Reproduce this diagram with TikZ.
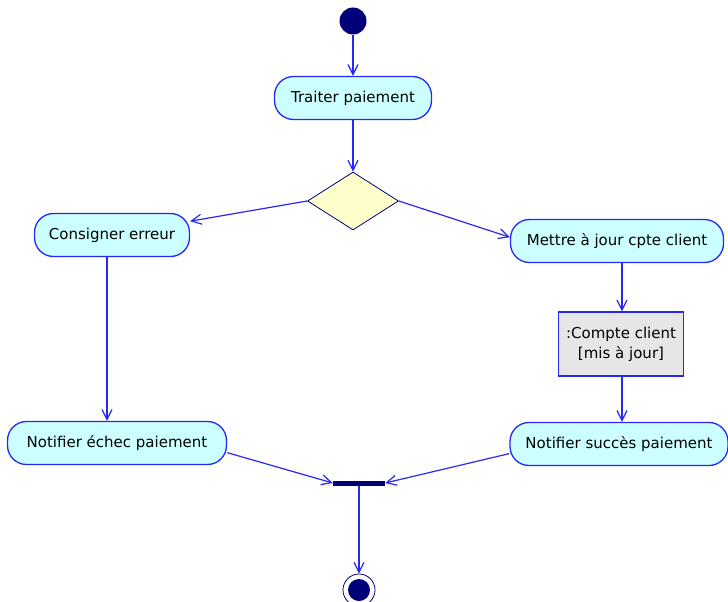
\documentclass[tikz,border=0pt]{standalone}
\usepackage{fontspec}
\setmainfont{DejaVu Sans}
\usetikzlibrary{positioning,shapes.geometric,arrows.meta}

\definecolor{flowblue}{RGB}{40,40,245}
\definecolor{stateblue}{RGB}{0,0,120}
\definecolor{actfill}{RGB}{204,255,255}
\definecolor{decfill}{RGB}{255,255,204}
\definecolor{objfill}{RGB}{230,230,230}

\tikzset{
  activity/.style={draw=flowblue, line width=1.3pt, fill=actfill, rounded corners=19pt,
    minimum height=43pt, inner sep=0pt, font=\fontsize{15}{18}\selectfont},
  objectbox/.style={draw=flowblue, line width=1.3pt, fill=objfill, align=center,
    minimum width=125pt, minimum height=64pt, inner sep=0pt, font=\fontsize{15}{20}\selectfont},
  decision/.style={diamond, draw=stateblue, line width=0.8pt, fill=decfill, aspect=1.57,
    minimum width=91pt, minimum height=58pt, inner sep=0pt},
  startstate/.style={circle, fill=stateblue, minimum size=27pt, inner sep=0pt},
  endstate/.style={circle, draw=stateblue, fill=white, line width=0.8pt, minimum size=32pt, inner sep=0pt},
  joinbar/.style={rectangle, fill=stateblue, minimum width=52pt, minimum height=5pt, inner sep=0pt},
  flow/.style={draw=flowblue, line width=1.2pt, -{Straight Barb[length=10pt,width=10pt]}},
}

\begin{document}
\begin{tikzpicture}[x=1pt, y=-1pt]
        \useasboundingbox (0,0) rectangle (728,602);
        \node[startstate] (debut) at (353,21) {};
        \node[activity, minimum width=157pt] (traiter) at (353,98) {Traiter paiement};
        \node[decision] (choix) at (353,201) {};
        \node[activity, minimum width=155pt] (consigner) at (112,235) {Consigner erreur};
        \node[activity, minimum width=213pt] (mettre) at (617,241) {Mettre à jour cpte client};
        \node[objectbox] (compte) at (621,344) {:Compte client\\{}[mis à jour]};
        \node[activity, minimum width=219pt] (echec) at (117,443) {Notifier échec paiement};
        \node[activity, minimum width=218pt] (succes) at (619,444) {Notifier succès paiement};
        \node[joinbar] (jonction) at (359,483) {};
        \node[endstate] (fin) at (359,590) {};
        \node[startstate, minimum size=22pt] (fincoeur) at (fin) {};

        \draw[flow] (debut) -- (traiter);
        \draw[flow] (traiter) -- (choix);
        \draw[flow] (choix.west) -- (consigner.10);
        \draw[flow] (choix.east) -- (mettre.178);
        \draw[flow] (consigner.south -| 107,0) -- (echec.north -| 107,0);
        \draw[flow] (mettre.south -| 622,0) -- (compte.north -| 622,0);
        \draw[flow] (compte.south -| 622,0) -- (succes.north -| 622,0);
        \draw[flow] (echec.-5) -- (jonction.west);
        \draw[flow] (succes.185) -- (jonction.east);
        \draw[flow] (jonction) -- (fin);
    \end{tikzpicture}
\end{document}
